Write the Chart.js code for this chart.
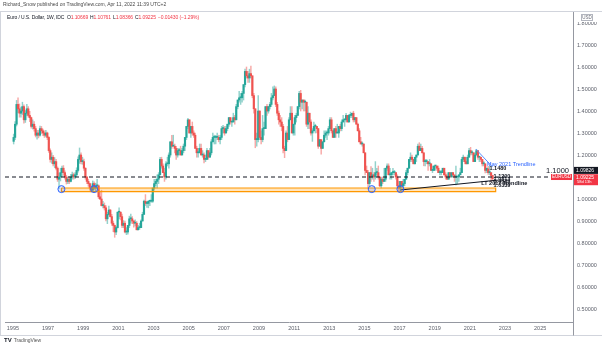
<!DOCTYPE html>
<html>
<head>
<meta charset="utf-8">
<script src="https://cdn.jsdelivr.net/npm/chart.js@4.4.1/dist/chart.umd.min.js"></script>
<style>
  body { margin: 0; width: 602px; height: 347px; position: relative; background: #fff; overflow: hidden; font-family: "Liberation Sans", Arial, sans-serif; }
  #chart { position: absolute; left: 0; top: 0; }
  #pub { position: absolute; left: 3px; top: 1px; font-size: 5px; color: #4a4a4a; white-space: nowrap; }
  #legend { position: absolute; left: 7px; top: 14px; font-size: 5px; color: #131722; white-space: nowrap; letter-spacing: -0.1px; }
  #legend .v { color: #f23645; margin-right: 2px; }
  #logo { position: absolute; left: 4px; top: 337px; font-size: 5px; color: #555; white-space: nowrap; }
  #logo b { color: #131722; font-size: 6px; margin-right: 2px; }
</style>
</head>
<body>
<canvas id="chart" width="602" height="347"></canvas>
<div id="pub">Richard_Snow published on TradingView.com, Apr 11, 2022 11:39 UTC+2</div>
<div id="legend">Euro / U.S. Dollar, 1W, IDC&nbsp; O<span class="v">1.10669</span>H<span class="v">1.10761</span>L<span class="v">1.08366</span>C<span class="v">1.09225</span><span class="v">−0.01430 (−1.29%)</span></div>
<div id="logo"><b>TV</b>TradingView</div>
<script>
// monthly EUR/USD candles, Jan 1995 .. Apr 2022
const startYear = 1995;

const openPx = [
  1.262,1.280,1.340,1.430,1.410,1.390,1.400,1.420,1.360,1.390,1.410,1.380, // 1995
  1.370,1.330,1.340,1.320,1.290,1.300,1.290,1.320,1.310,1.300,1.290,1.300, // 1996
  1.280,1.220,1.180,1.190,1.160,1.170,1.140,1.090,1.100,1.120,1.140,1.120, // 1997
  1.100,1.080,1.090,1.080,1.100,1.110,1.100,1.110,1.130,1.180,1.200,1.170, // 1998
  1.170,1.140,1.100,1.080,1.070,1.050,1.040,1.070,1.050,1.060,1.060,1.010, // 1999
  1.000,0.970,0.970,0.960,0.910,0.930,0.950,0.920,0.890,0.880,0.850,0.870, // 2000
  0.940,0.940,0.920,0.880,0.890,0.850,0.850,0.880,0.910,0.910,0.900,0.890, // 2001
  0.890,0.860,0.870,0.870,0.900,0.930,0.990,0.980,0.980,0.990,0.990,0.990, // 2002
  1.050,1.070,1.080,1.090,1.110,1.180,1.150,1.120,1.100,1.160,1.160,1.200, // 2003
  1.260,1.240,1.240,1.230,1.200,1.220,1.220,1.200,1.220,1.240,1.280,1.330, // 2004
  1.360,1.300,1.330,1.300,1.290,1.230,1.210,1.210,1.230,1.200,1.200,1.180, // 2005
  1.180,1.220,1.190,1.210,1.260,1.280,1.280,1.280,1.280,1.270,1.280,1.320, // 2006
  1.320,1.300,1.320,1.340,1.370,1.350,1.350,1.370,1.360,1.420,1.450,1.460, // 2007
  1.460,1.480,1.520,1.580,1.560,1.550,1.570,1.560,1.470,1.410,1.270,1.270, // 2008
  1.400,1.280,1.270,1.320,1.320,1.420,1.400,1.420,1.430,1.460,1.470,1.500, // 2009
  1.430,1.390,1.360,1.350,1.330,1.230,1.220,1.300,1.270,1.360,1.390,1.300, // 2010
  1.340,1.370,1.380,1.420,1.480,1.440,1.450,1.440,1.440,1.340,1.390,1.350, // 2011
  1.300,1.310,1.330,1.330,1.320,1.240,1.270,1.230,1.260,1.290,1.300,1.300, // 2012
  1.320,1.360,1.310,1.280,1.320,1.300,1.300,1.330,1.320,1.350,1.360,1.360, // 2013
  1.380,1.350,1.380,1.380,1.390,1.360,1.370,1.340,1.310,1.260,1.250,1.250, // 2014
  1.210,1.130,1.120,1.070,1.120,1.100,1.110,1.100,1.120,1.120,1.100,1.060, // 2015
  1.090,1.080,1.090,1.140,1.150,1.110,1.110,1.120,1.120,1.120,1.100,1.060, // 2016
  1.050,1.080,1.060,1.070,1.090,1.120,1.140,1.180,1.190,1.180,1.160,1.190, // 2017
  1.200,1.240,1.220,1.230,1.210,1.170,1.170,1.170,1.160,1.160,1.130,1.130, // 2018
  1.150,1.150,1.140,1.120,1.120,1.120,1.140,1.110,1.100,1.090,1.120,1.100, // 2019
  1.120,1.110,1.100,1.100,1.100,1.110,1.120,1.180,1.190,1.170,1.160,1.190, // 2020
  1.220,1.210,1.210,1.170,1.200,1.220,1.190,1.190,1.180,1.160,1.160,1.130, // 2021
  1.137,1.120,1.120,1.107                                                  // 2022
];
const highPx = [
  1.295,1.352,1.448,1.460,1.432,1.418,1.440,1.428,1.402,1.430,1.420,1.398,
  1.372,1.360,1.352,1.330,1.312,1.312,1.332,1.330,1.318,1.310,1.312,1.304,
  1.284,1.228,1.210,1.198,1.188,1.180,1.146,1.118,1.140,1.150,1.152,1.128,
  1.108,1.100,1.102,1.112,1.122,1.118,1.120,1.142,1.192,1.232,1.210,1.190,
  1.182,1.142,1.102,1.090,1.072,1.060,1.082,1.078,1.072,1.090,1.064,1.030,
  1.040,0.990,0.982,0.970,0.940,0.968,0.952,0.930,0.900,0.882,0.875,0.942,
  0.960,0.942,0.932,0.902,0.900,0.870,0.880,0.922,0.932,0.920,0.902,0.905,
  0.898,0.880,0.890,0.905,0.940,0.995,1.020,0.990,0.992,0.992,1.020,1.050,
  1.090,1.090,1.110,1.120,1.190,1.190,1.160,1.140,1.170,1.190,1.210,1.260,
  1.290,1.290,1.250,1.240,1.230,1.230,1.240,1.230,1.250,1.280,1.330,1.367,
  1.360,1.330,1.350,1.310,1.300,1.240,1.230,1.250,1.250,1.220,1.210,1.200,
  1.230,1.220,1.230,1.270,1.300,1.290,1.290,1.300,1.290,1.290,1.330,1.335,
  1.330,1.330,1.340,1.370,1.370,1.350,1.390,1.380,1.430,1.450,1.490,1.480,
  1.490,1.520,1.590,1.600,1.580,1.590,1.604,1.560,1.480,1.410,1.300,1.470,
  1.400,1.310,1.380,1.350,1.420,1.430,1.420,1.440,1.480,1.510,1.514,1.510,
  1.440,1.400,1.380,1.370,1.340,1.240,1.310,1.330,1.370,1.420,1.420,1.340,
  1.380,1.390,1.420,1.490,1.494,1.450,1.450,1.450,1.440,1.420,1.390,1.360,
  1.320,1.350,1.340,1.330,1.320,1.270,1.240,1.260,1.310,1.310,1.310,1.330,
  1.370,1.370,1.310,1.320,1.330,1.340,1.330,1.340,1.360,1.380,1.360,1.389,
  1.380,1.385,1.395,1.390,1.399,1.370,1.370,1.345,1.320,1.280,1.260,1.250,
  1.210,1.150,1.130,1.120,1.147,1.140,1.120,1.170,1.140,1.150,1.100,1.100,
  1.100,1.140,1.140,1.160,1.160,1.140,1.120,1.140,1.130,1.120,1.110,1.080,
  1.080,1.080,1.090,1.090,1.130,1.140,1.180,1.210,1.200,1.180,1.190,1.200,
  1.250,1.256,1.250,1.240,1.210,1.180,1.180,1.170,1.180,1.160,1.150,1.150,
  1.150,1.150,1.150,1.130,1.130,1.140,1.140,1.120,1.110,1.120,1.110,1.120,
  1.120,1.100,1.150,1.100,1.110,1.140,1.190,1.200,1.190,1.190,1.200,1.230,
  1.235,1.220,1.210,1.210,1.226,1.220,1.190,1.190,1.180,1.170,1.160,1.140,
  1.148,1.149,1.118,1.107
];
const lowPx = [
  1.250,1.270,1.332,1.392,1.372,1.372,1.384,1.345,1.348,1.380,1.372,1.352,
  1.322,1.318,1.308,1.282,1.272,1.278,1.286,1.298,1.288,1.280,1.282,1.270,
  1.212,1.168,1.162,1.150,1.142,1.132,1.080,1.048,1.082,1.102,1.108,1.090,
  1.068,1.070,1.070,1.078,1.090,1.090,1.092,1.102,1.122,1.162,1.160,1.158,
  1.130,1.090,1.070,1.058,1.040,1.032,1.036,1.042,1.034,1.050,1.002,0.998,
  0.968,0.960,0.950,0.900,0.888,0.928,0.918,0.880,0.852,0.826,0.838,0.868,
  0.910,0.905,0.870,0.870,0.846,0.838,0.840,0.870,0.890,0.888,0.872,0.878,
  0.860,0.860,0.862,0.870,0.900,0.930,0.970,0.962,0.960,0.970,0.985,0.985,
  1.040,1.060,1.050,1.070,1.110,1.140,1.120,1.080,1.090,1.150,1.140,1.190,
  1.230,1.240,1.210,1.180,1.190,1.200,1.200,1.200,1.210,1.220,1.270,1.320,
  1.300,1.280,1.290,1.280,1.230,1.190,1.190,1.210,1.200,1.190,1.164,1.170,
  1.180,1.180,1.190,1.200,1.260,1.250,1.250,1.270,1.260,1.250,1.270,1.300,
  1.290,1.300,1.310,1.330,1.340,1.330,1.350,1.340,1.360,1.410,1.440,1.430,
  1.440,1.450,1.510,1.550,1.530,1.530,1.550,1.460,1.390,1.233,1.240,1.260,
  1.270,1.250,1.260,1.290,1.320,1.380,1.390,1.410,1.420,1.450,1.470,1.420,
  1.380,1.340,1.330,1.310,1.210,1.188,1.220,1.260,1.270,1.360,1.300,1.290,
  1.290,1.350,1.380,1.410,1.400,1.410,1.400,1.400,1.330,1.320,1.320,1.290,
  1.262,1.310,1.300,1.300,1.230,1.240,1.204,1.230,1.260,1.280,1.270,1.290,
  1.320,1.300,1.280,1.280,1.280,1.300,1.280,1.310,1.310,1.350,1.330,1.350,
  1.350,1.350,1.370,1.370,1.350,1.350,1.340,1.310,1.260,1.250,1.240,1.210,
  1.110,1.120,1.046,1.060,1.080,1.090,1.080,1.090,1.110,1.090,1.056,1.050,
  1.070,1.080,1.080,1.130,1.110,1.090,1.090,1.110,1.110,1.090,1.050,1.035,
  1.034,1.050,1.050,1.060,1.090,1.110,1.140,1.170,1.170,1.160,1.160,1.170,
  1.200,1.220,1.220,1.210,1.151,1.150,1.160,1.130,1.150,1.130,1.120,1.130,
  1.130,1.130,1.120,1.110,1.110,1.120,1.110,1.090,1.089,1.090,1.100,1.100,
  1.100,1.080,1.064,1.070,1.080,1.110,1.120,1.170,1.160,1.160,1.160,1.190,
  1.200,1.200,1.170,1.170,1.200,1.180,1.170,1.170,1.150,1.150,1.119,1.120,
  1.112,1.110,1.081,1.084
];
const closePx = [
  1.280,1.340,1.430,1.410,1.390,1.400,1.420,1.360,1.390,1.410,1.380,1.370,
  1.330,1.340,1.320,1.290,1.300,1.290,1.320,1.310,1.300,1.290,1.300,1.280,
  1.220,1.180,1.190,1.160,1.170,1.140,1.090,1.100,1.120,1.140,1.120,1.100,
  1.080,1.090,1.080,1.100,1.110,1.100,1.110,1.130,1.180,1.200,1.170,1.170,
  1.140,1.100,1.080,1.070,1.050,1.040,1.070,1.050,1.060,1.060,1.010,1.000,
  0.970,0.970,0.960,0.910,0.930,0.950,0.920,0.890,0.880,0.850,0.870,0.940,
  0.940,0.920,0.880,0.890,0.850,0.850,0.880,0.910,0.910,0.900,0.890,0.890,
  0.860,0.870,0.870,0.900,0.930,0.990,0.980,0.980,0.990,0.990,0.990,1.050,
  1.070,1.080,1.090,1.110,1.180,1.150,1.120,1.100,1.160,1.160,1.200,1.260,
  1.240,1.240,1.230,1.200,1.220,1.220,1.200,1.220,1.240,1.280,1.330,1.360,
  1.300,1.330,1.300,1.290,1.230,1.210,1.210,1.230,1.200,1.200,1.180,1.180,
  1.220,1.190,1.210,1.260,1.280,1.280,1.280,1.280,1.270,1.280,1.320,1.320,
  1.300,1.320,1.340,1.370,1.350,1.350,1.370,1.360,1.420,1.450,1.460,1.460,
  1.480,1.520,1.580,1.560,1.550,1.570,1.560,1.470,1.410,1.270,1.270,1.400,
  1.280,1.270,1.320,1.320,1.420,1.400,1.420,1.430,1.460,1.470,1.500,1.430,
  1.390,1.360,1.350,1.330,1.230,1.220,1.300,1.270,1.360,1.390,1.300,1.340,
  1.370,1.380,1.420,1.480,1.440,1.450,1.440,1.440,1.340,1.390,1.350,1.300,
  1.310,1.330,1.330,1.320,1.240,1.270,1.230,1.260,1.290,1.300,1.300,1.320,
  1.360,1.310,1.280,1.320,1.300,1.300,1.330,1.320,1.350,1.360,1.360,1.380,
  1.350,1.380,1.380,1.390,1.360,1.370,1.340,1.310,1.260,1.250,1.250,1.210,
  1.130,1.120,1.070,1.120,1.100,1.110,1.100,1.120,1.120,1.100,1.060,1.090,
  1.080,1.090,1.140,1.150,1.110,1.110,1.120,1.120,1.120,1.100,1.060,1.050,
  1.080,1.060,1.070,1.090,1.120,1.140,1.180,1.190,1.180,1.160,1.190,1.200,
  1.240,1.220,1.230,1.210,1.170,1.170,1.170,1.160,1.160,1.130,1.130,1.150,
  1.150,1.140,1.120,1.120,1.120,1.140,1.110,1.100,1.090,1.120,1.100,1.120,
  1.110,1.100,1.100,1.100,1.110,1.120,1.180,1.190,1.170,1.160,1.190,1.220,
  1.210,1.210,1.170,1.200,1.220,1.190,1.190,1.180,1.160,1.160,1.130,1.140,
  1.120,1.120,1.107,1.092
];

// axis ticks
const yearTicks = [1995,1997,1999,2001,2003,2005,2007,2009,2011,2013,2015,2017,2019,2021,2023,2025];
const yearLabels = ['1995','1997','1999','2001','2003','2005','2007','2009','2011','2013','2015','2017','2019','2021','2023','2025'];
const priceTicks = [0.5,0.6,0.7,0.8,0.9,1.0,1.1,1.2,1.3,1.4,1.5,1.6,1.7,1.8];

// drawings (time in years, price)
const hLevel = 1.1000;
const supportZone = [1.034, 1.050];
const zoneSpan = [1997.76, 2022.47];
const touchDates = [1997.76, 1999.62, 2015.42, 2017.05];
const touchLevel = 1.045;
const ltTrend = [[2017.05, 1.041], [2022.58, 1.086]];
const mayTrend = [[2021.34, 1.227], [2022.30, 1.145]];
const lastPrice = 1.09225, markPrice = 1.09826;
const notes = [
  { text: 'May 2021 Trendline', x: 2021.98, y: 1.159, kind: 'blue' },
  { text: '1.1480', x: 2022.12, y: 1.138, kind: 'dark' },
  { text: 'LT 2017 Trendline', x: 2021.65, y: 1.070, kind: 'dark' },
  { text: '1.1200', x: 2022.35, y: 1.104, kind: 'dark' },
  { text: '1.0813', x: 2022.35, y: 1.090, kind: 'dark' },
  { text: '1.0639', x: 2022.35, y: 1.078, kind: 'dark' },
  { text: '1.0339', x: 2022.35, y: 1.062, kind: 'dark' }
];

const UP = '#26a69a', DOWN = '#ef5350';
const xs = closePx.map((c, i) => startYear + (i + 0.5) / 12);
const isUp = closePx.map((c, i) => c >= openPx[i]);

const overlay = {
  id: 'overlay',
  afterDatasetsDraw(chart) {
    const { ctx, scales: { x, y } } = chart;
    ctx.save();
    ctx.textBaseline = 'middle';
    ctx.textAlign = 'left';
    notes.forEach(n => {
      ctx.font = n.kind === 'blue' ? '5.5px "Liberation Sans"' : 'bold 5.5px "Liberation Sans"';
      ctx.fillStyle = n.kind === 'blue' ? '#2962ff' : '#131722';
      ctx.fillText(n.text, x.getPixelForValue(n.x), y.getPixelForValue(n.y));
    });
    // level label
    const ly = y.getPixelForValue(hLevel);
    ctx.font = '7.5px "Liberation Sans"';
    ctx.fillStyle = '#131722';
    ctx.textAlign = 'right';
    ctx.fillText('1.1000', 569, ly - 6);
    // symbol tag on the line
    ctx.fillStyle = '#f23645';
    ctx.fillRect(551, ly - 3, 21, 6);
    ctx.fillStyle = '#fff';
    ctx.font = '4.5px "Liberation Sans"';
    ctx.textAlign = 'center';
    ctx.fillText('EURUSD', 561.5, ly);
    ctx.restore();
  },
  afterDraw(chart) {
    const { ctx, scales: { y }, chartArea: a } = chart;
    ctx.save();
    ctx.strokeStyle = '#d1d4dc';
    ctx.lineWidth = 1;
    ctx.beginPath();
    ctx.moveTo(0, a.top - 0.5); ctx.lineTo(602, a.top - 0.5);
    ctx.moveTo(0, 335.5); ctx.lineTo(602, 335.5);
    ctx.moveTo(0.5, a.top); ctx.lineTo(0.5, 335.5);
    ctx.stroke();
    ctx.strokeStyle = '#9598a1';
    ctx.beginPath();
    ctx.moveTo(a.right + 0.5, a.bottom); ctx.lineTo(a.right + 0.5, 335.5);
    ctx.stroke();
    // USD badge
    ctx.fillStyle = '#fff';
    ctx.fillRect(a.right + 3, a.top + 2, 24, 8);
    ctx.strokeStyle = '#b2b5be';
    ctx.strokeRect(a.right + 8.5, a.top + 2.5, 11, 6);
    ctx.fillStyle = '#6a6d78';
    ctx.font = '4.5px "Liberation Sans"';
    ctx.textAlign = 'center';
    ctx.textBaseline = 'middle';
    ctx.fillText('USD', a.right + 14, a.top + 5.5);
    // price tags
    const my = y.getPixelForValue(markPrice) - 7;
    ctx.fillStyle = '#131722';
    ctx.fillRect(a.right + 1, my - 3.5, 24, 7);
    ctx.fillStyle = '#fff';
    ctx.font = '5px "Liberation Sans"';
    ctx.textAlign = 'left';
    ctx.fillText(markPrice.toFixed(5), a.right + 3, my);
    const py = y.getPixelForValue(lastPrice);
    ctx.fillStyle = '#f23645';
    ctx.fillRect(a.right + 1, py - 4.5, 24, 11);
    ctx.fillStyle = '#fff';
    ctx.fillText(lastPrice.toFixed(5), a.right + 3, py - 1.5);
    ctx.font = '4px "Liberation Sans"';
    ctx.fillText('58d 13h', a.right + 4, py + 3.5);
    ctx.restore();
  }
};

const tickFont = { family: 'Liberation Sans', size: 5.5 };

new Chart(document.getElementById('chart'), {
  type: 'bar',
  data: {
    datasets: [
      {
        type: 'scatter', data: touchDates.map(d => ({ x: d, y: touchLevel })),
        pointRadius: 3.5, borderColor: '#2962ff', borderWidth: 1,
        backgroundColor: 'rgba(41,98,255,0.15)', order: 0
      },
      {
        type: 'line', data: mayTrend.map(p => ({ x: p[0], y: p[1] })),
        borderColor: '#5b8cff', borderWidth: 1, pointRadius: 0, order: 1
      },
      {
        type: 'line', data: ltTrend.map(p => ({ x: p[0], y: p[1] })),
        borderColor: '#131722', borderWidth: 1, pointRadius: 0, order: 1
      },
      {
        type: 'line', data: [{ x: 1994.55, y: hLevel }, { x: 2025.6, y: hLevel }],
        borderColor: '#131722', borderWidth: 1, borderDash: [4, 3], pointRadius: 0, order: 2
      },
      {
        type: 'line',
        data: [
          { x: zoneSpan[0], y: supportZone[1] }, { x: zoneSpan[1], y: supportZone[1] },
          { x: zoneSpan[1], y: supportZone[0] }, { x: zoneSpan[0], y: supportZone[0] },
          { x: zoneSpan[0], y: supportZone[1] }
        ],
        borderColor: '#ff9800', borderWidth: 1.2, backgroundColor: 'rgba(255,152,0,0.25)',
        fill: 'shape', pointRadius: 0, tension: 0, order: 3
      },
      {
        data: xs.map((x, i) => ({ x, y: [openPx[i], closePx[i]] })),
        backgroundColor: isUp.map(u => u ? UP : DOWN),
        barThickness: 1.5, grouped: false, minBarLength: 1, order: 4
      },
      {
        data: xs.map((x, i) => ({ x, y: [lowPx[i], highPx[i]] })),
        backgroundColor: isUp.map(u => u ? 'rgba(38,166,154,0.5)' : 'rgba(239,83,80,0.5)'),
        barThickness: 0.8, grouped: false, order: 5
      }
    ]
  },
  options: {
    responsive: false,
    animation: false,
    devicePixelRatio: 1,
    layout: { padding: { top: 12, left: 0, right: 0, bottom: 0 } },
    plugins: { legend: { display: false }, tooltip: { enabled: false } },
    scales: {
      x: {
        type: 'linear', min: 1994.55, max: 2026.87, offset: false,
        grid: { display: false, drawTicks: false },
        border: { display: true, color: '#9598a1' },
        afterBuildTicks: s => { s.ticks = yearTicks.map(v => ({ value: v })); },
        afterFit: s => { s.height = 25; },
        ticks: {
          autoSkip: false, maxRotation: 0, padding: 3, color: '#5d606b', font: tickFont,
          callback: (v, i) => yearLabels[i]
        }
      },
      y: {
        type: 'linear', position: 'right', min: 0.441, max: 1.85,
        grid: { display: false, drawTicks: false },
        border: { display: true, color: '#9598a1' },
        afterBuildTicks: s => { s.ticks = priceTicks.map(v => ({ value: v })); },
        afterFit: s => { s.width = 29; },
        ticks: {
          padding: 4, color: '#5d606b', font: tickFont,
          callback: v => v.toFixed(5)
        }
      }
    }
  },
  plugins: [overlay]
});
</script>
</body>
</html>
